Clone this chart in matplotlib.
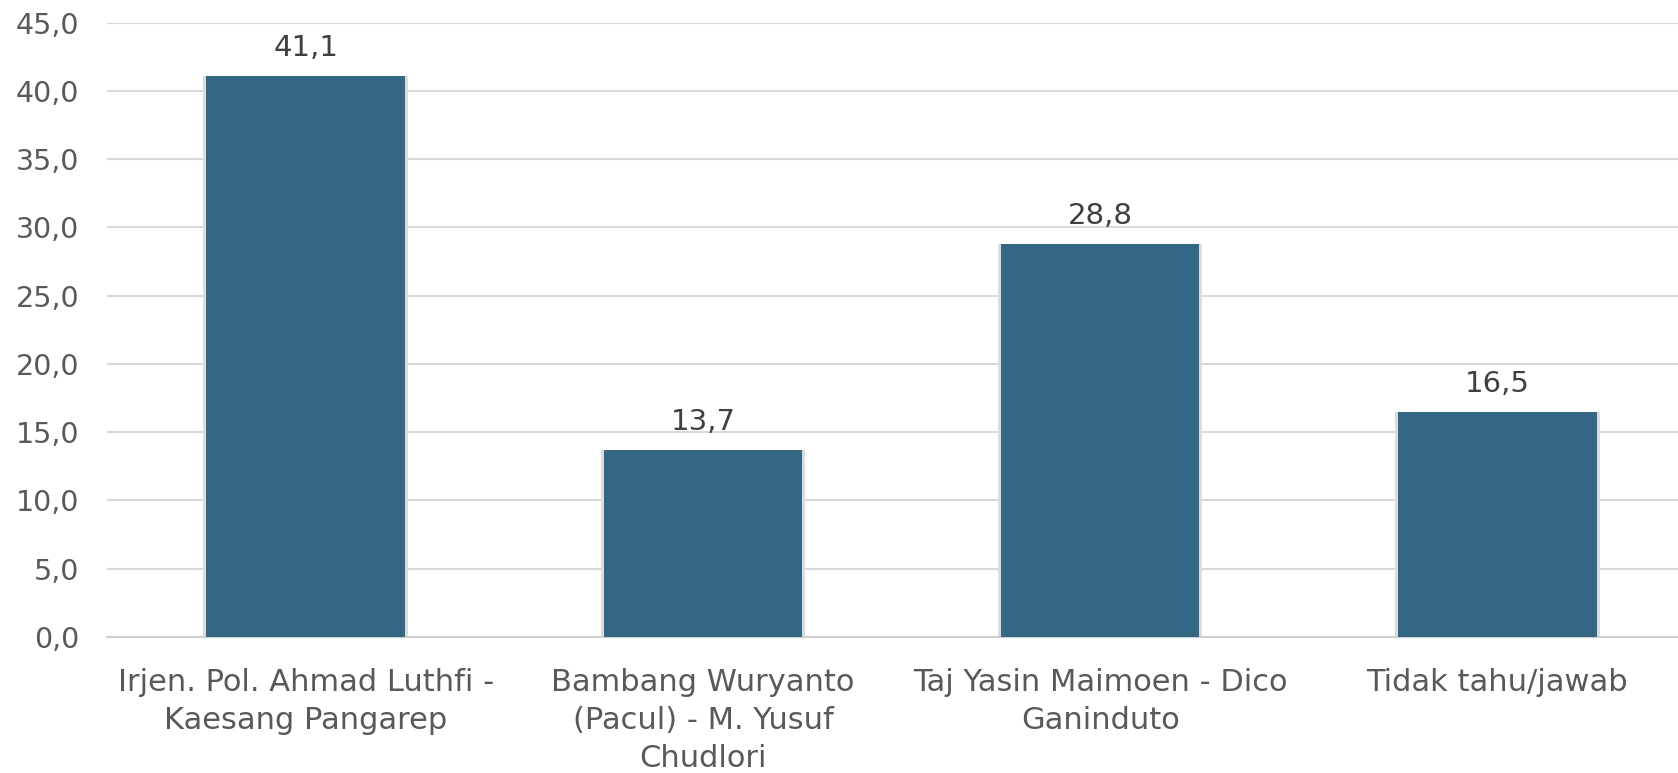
import matplotlib

matplotlib.use("Agg")
import matplotlib.pyplot as plt

categories = [
    "Irjen. Pol. Ahmad Luthfi -\nKaesang Pangarep",
    "Bambang Wuryanto\n(Pacul) - M. Yusuf\nChudlori",
    "Taj Yasin Maimoen - Dico\nGaninduto",
    "Tidak tahu/jawab",
]
values = [41.1, 13.7, 28.8, 16.5]
yticks = [0, 5, 10, 15, 20, 25, 30, 35, 40, 45]

BAR = "#336786"
TXT = "#595959"

plt.rcParams["font.family"] = ["DejaVu Sans"]

fig = plt.figure(figsize=(16.78, 7.73), dpi=100)
W, H = 1678, 773
left, right, top, bottom = 107, 1696, 22.7, 637
ax = fig.add_axes([left / W, 1 - bottom / H, (right - left) / W, (bottom - top) / H])

x = list(range(len(values)))
# soft shadow behind the bars
ax.bar(x, values, width=0.515, color="#dcdcdc", zorder=2)
bars = ax.bar(x, values, width=0.5, color=BAR, zorder=3)

for b, v in zip(bars, values):
    ax.annotate(f"{v:.1f}".replace(".", ","), (b.get_x() + b.get_width() / 2, v),
                xytext=(0, 10), textcoords="offset points", ha="center", va="bottom",
                fontsize=21, color="#404040")

ax.set_xlim(-0.5, len(values) - 0.5)
ax.set_ylim(0, 45)
ax.set_yticks(yticks)
ax.set_yticklabels([f"{t:.1f}".replace(".", ",") for t in yticks])
ax.set_xticks(x)
ax.set_xticklabels(categories, linespacing=1.4)
ax.tick_params(axis="y", length=0, labelsize=20.5, labelcolor=TXT, pad=20)
ax.tick_params(axis="x", length=0, labelsize=22, labelcolor=TXT, pad=22)
ax.yaxis.grid(True, color="#d9d9d9", linewidth=1.5, zorder=0)
ax.set_axisbelow(True)
for s in ["top", "right", "left"]:
    ax.spines[s].set_visible(False)
ax.spines["bottom"].set_color("#d0d0d0")
ax.spines["bottom"].set_linewidth(1.5)

fig.savefig("out.png", dpi=100)
